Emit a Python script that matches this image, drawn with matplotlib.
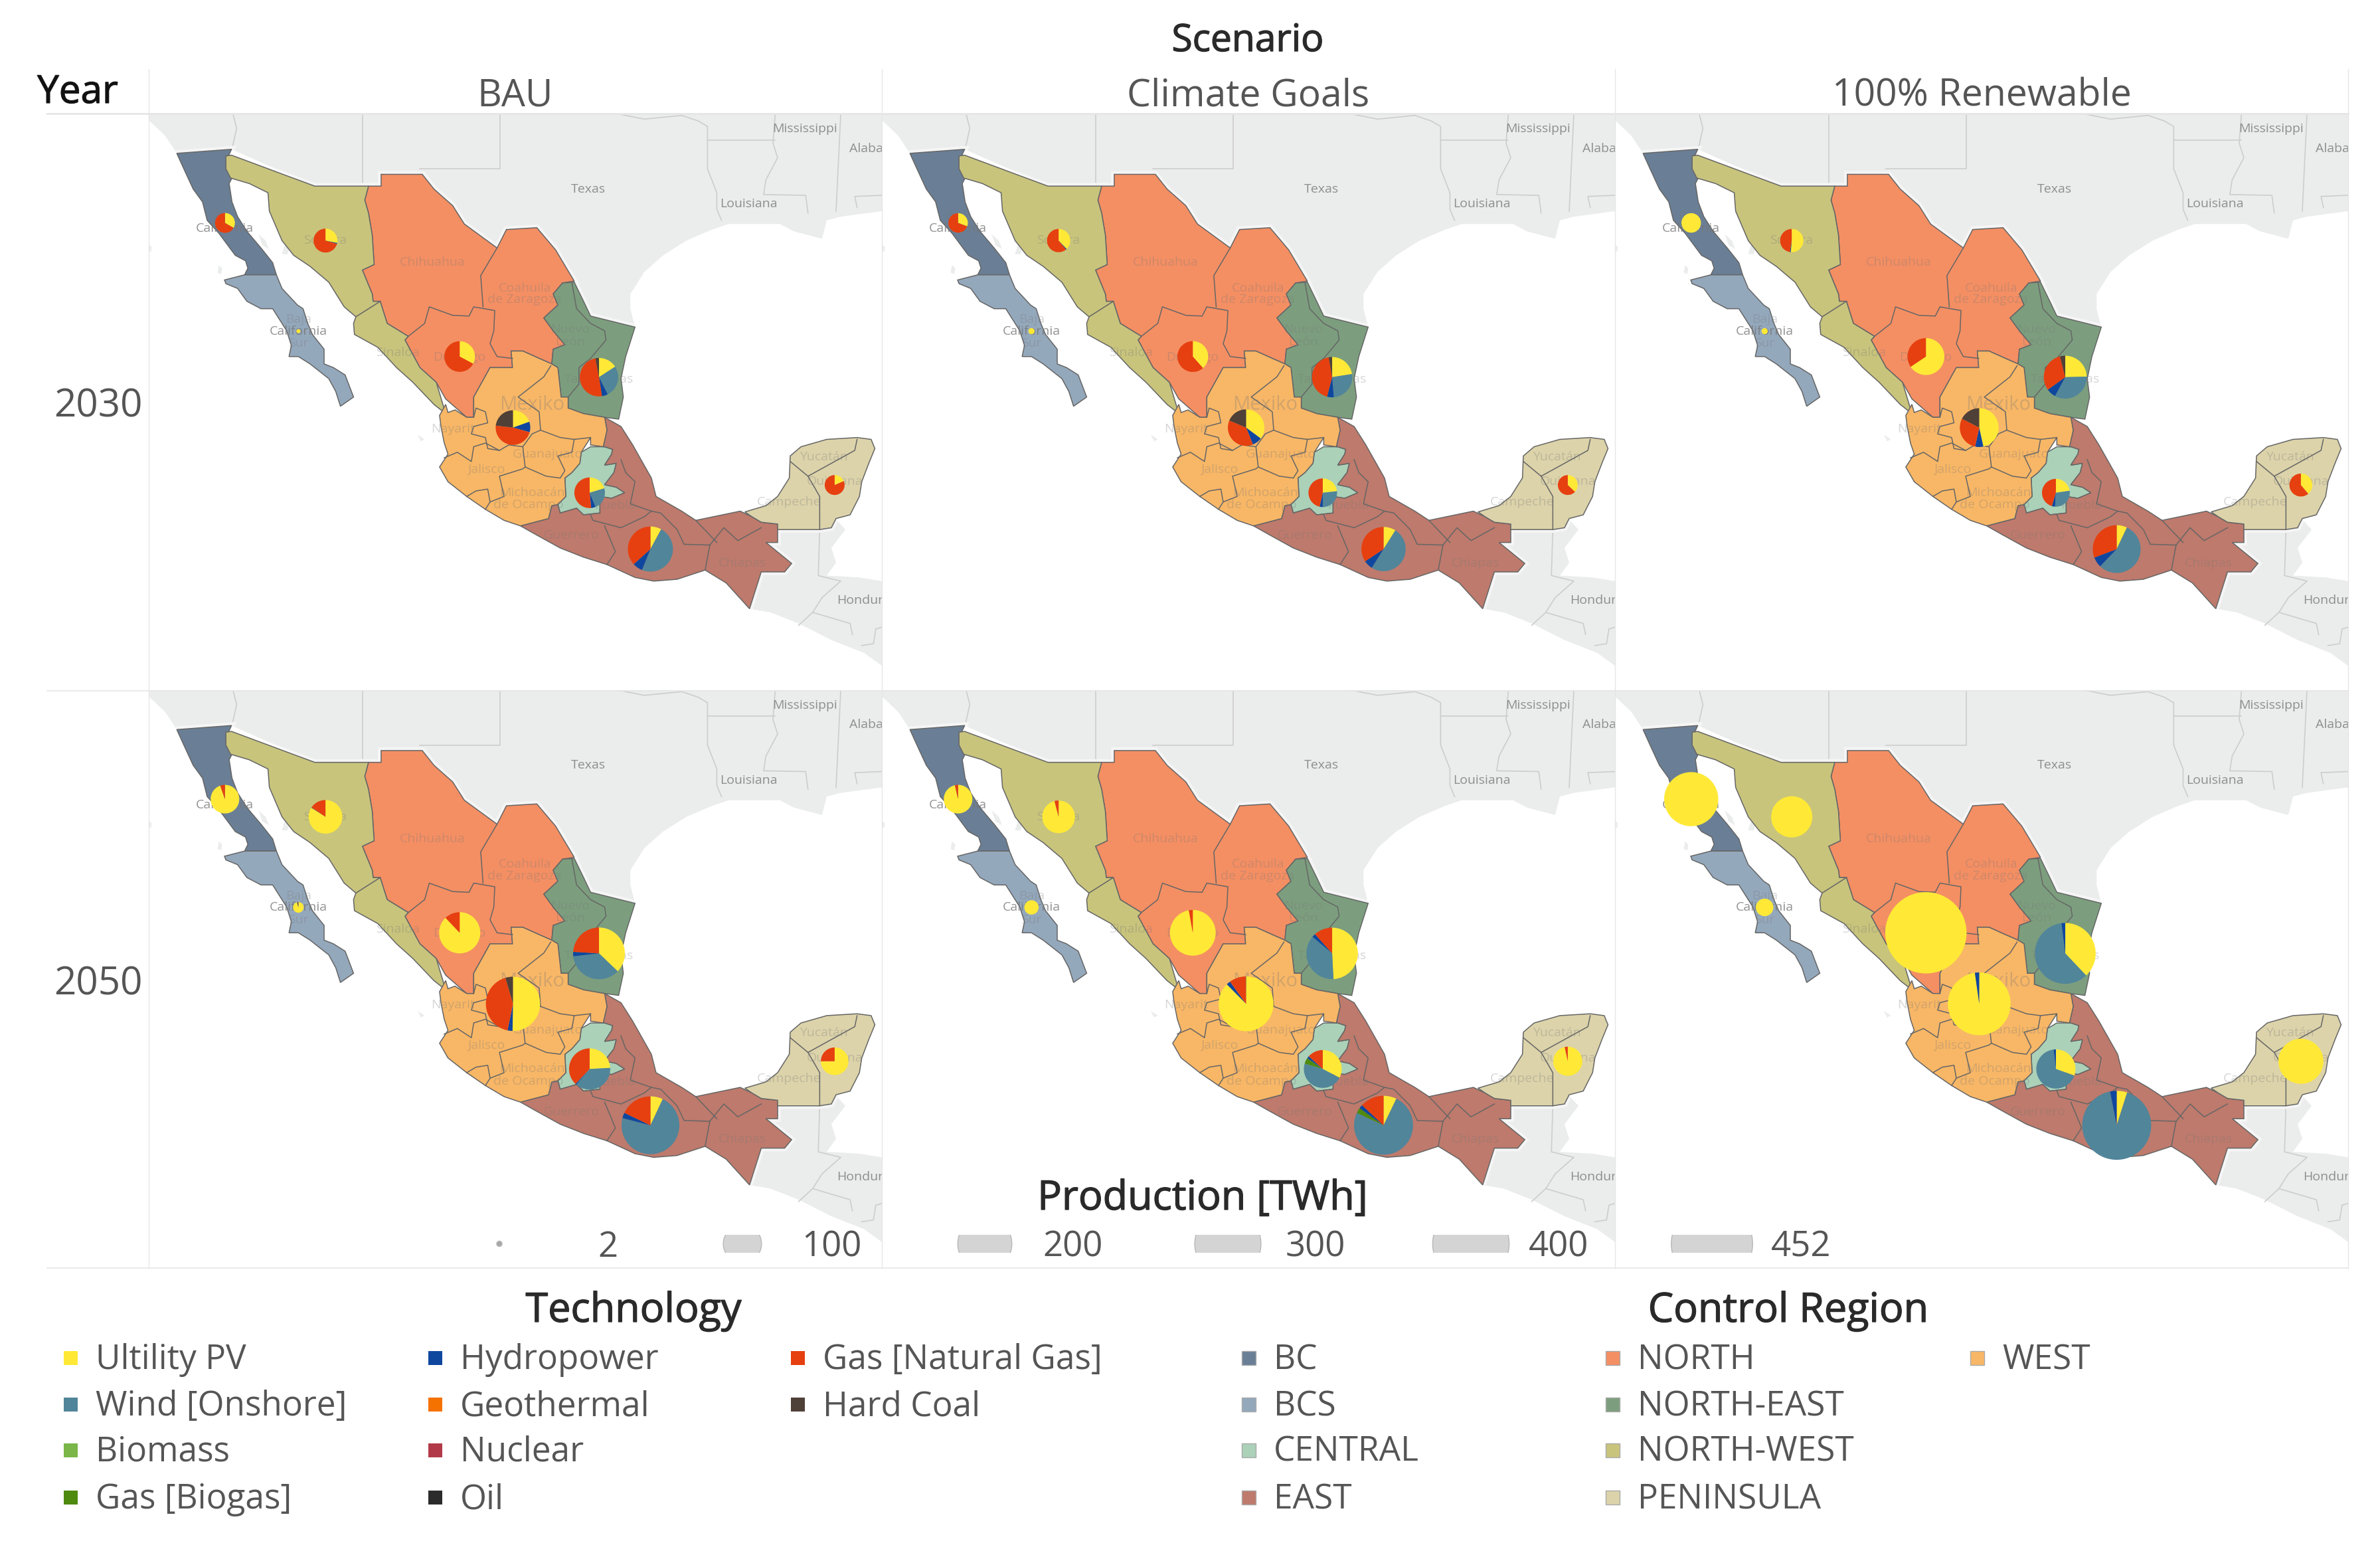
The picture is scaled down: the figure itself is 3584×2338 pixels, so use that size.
import numpy as np
import matplotlib
matplotlib.use('Agg')
import matplotlib.pyplot as plt
from matplotlib.path import Path
from matplotlib.patches import Polygon, Circle, Rectangle
import matplotlib.patheffects as pe

plt.rcParams['font.family'] = ['Open Sans', 'DejaVu Sans']

W, H = 3584, 2338
PANEL_W, PANEL_H = 1104, 869
KX, KY = 1568 / PANEL_W, 1568 / PANEL_H

scenarios = ['BAU', 'Climate Goals', '100% Renewable']
years = ['2030', '2050']

tech_names = ['Ultility PV', 'Wind [Onshore]', 'Biomass', 'Gas [Biogas]', 'Hydropower',
              'Geothermal', 'Nuclear', 'Oil', 'Gas [Natural Gas]', 'Hard Coal']
tech_colors = ['#FFE936', '#51859A', '#7AB648', '#4E8A0F', '#0F479F',
               '#F57200', '#B23A48', '#2B2B2B', '#E64010', '#4F4038']
region_names = ['BC', 'BCS', 'CENTRAL', 'EAST', 'NORTH', 'NORTH-EAST', 'NORTH-WEST', 'PENINSULA', 'WEST']
region_colors = ['#6A7F96', '#94A8BC', '#ABD1B8', '#BE7A6C', '#F48F63', '#7C9E7E', '#C8C47C', '#DCD3AA', '#F8B766']

size_values = [2, 100, 200, 300, 400, 452]

# pie columns: PV, wind, biogas, hydro, natural gas, hard coal (TWh)
pie_techs = [0, 1, 3, 4, 8, 9]
bau_2030 = {'BC': [9, 0, 0, 0, 18, 0], 'NORTH-WEST': [11, 0, 0, 0.5, 27.5, 0], 'BCS': [1.1, 0, 0, 0, 0, 0],
            'NORTH': [21, 0, 0, 0, 43, 0], 'WEST': [16, 0, 0, 8, 39, 19], 'NORTH-EAST': [16, 27, 0, 5, 50, 3],
            'CENTRAL': [13, 15, 0, 3, 33, 0], 'EAST': [11, 67, 0, 10, 51, 0], 'PENINSULA': [5, 0, 0, 0, 22, 0]}
climate_2030 = {'BC': [8, 0, 0, 0, 18, 0], 'NORTH-WEST': [14, 0, 0, 0.5, 22.5, 0], 'BCS': [2.6, 0, 0, 0, 0, 0],
                'NORTH': [25, 0, 0, 0, 40, 0], 'WEST': [32, 0, 0, 8, 34, 17], 'NORTH-EAST': [25, 29, 0, 6, 48, 3],
                'CENTRAL': [13, 15, 0, 2, 26, 0], 'EAST': [12, 67, 0, 9, 46, 0], 'PENINSULA': [10, 0, 0, 0, 17, 0]}
renew_2030 = {'BC': [26, 0, 0, 0, 0, 0], 'NORTH-WEST': [19, 0, 0, 0.5, 17.5, 0], 'BCS': [2.6, 0, 0, 0, 0, 0],
              'NORTH': [61, 0, 0, 0, 32, 0], 'WEST': [48, 0, 0, 7, 30, 18], 'NORTH-EAST': [31, 42, 0, 9, 39, 5],
              'CENTRAL': [12, 15, 0, 2, 24, 0], 'EAST': [11, 86, 0, 11, 48, 0], 'PENINSULA': [14, 0, 0, 0, 22, 0]}
bau_2050 = {'BC': [53, 0, 0, 0, 3, 0], 'NORTH-WEST': [65, 0, 0, 0.3, 12, 0], 'BCS': [7.4, 0, 0, 0, 0, 0.3],
            'NORTH': [102, 0, 0, 0, 14, 0], 'WEST': [101, 0, 0, 6, 85, 9], 'NORTH-EAST': [68, 66, 0, 5, 44, 0],
            'CENTRAL': [28, 43, 0, 1, 44, 0], 'EAST': [16, 165, 0, 7, 41, 0], 'PENINSULA': [39, 0, 0, 0, 13, 0]}
climate_2050 = {'BC': [54, 0, 0, 0, 2, 0], 'NORTH-WEST': [70, 0, 0, 0, 3, 0], 'BCS': [14, 0, 0, 0, 0, 0],
                'NORTH': [139, 0, 0, 0, 4, 0], 'WEST': [180, 0, 0, 5, 20, 0.5], 'NORTH-EAST': [89, 67, 0, 4, 21, 0],
                'CENTRAL': [32, 46, 5, 2, 13, 0], 'EAST': [17, 178, 7, 5, 31, 0], 'PENINSULA': [56, 0, 0, 0, 2, 0]}
renew_2050 = {'BC': [200, 0, 0, 0, 0, 0], 'NORTH-WEST': [116, 0, 0, 0, 0, 0], 'BCS': [21, 0, 0, 0, 0, 0],
              'NORTH': [452, 0, 0, 0, 0, 0], 'WEST': [263, 0, 0, 6, 0, 0], 'NORTH-EAST': [96, 152, 0, 5, 0, 0],
              'CENTRAL': [32, 71, 0, 2, 0, 0], 'EAST': [16, 299, 0, 10, 0, 0], 'PENINSULA': [139, 0, 0, 0, 0, 0]}
panel_data = [[bau_2030, climate_2030, renew_2030], [bau_2050, climate_2050, renew_2050]]

# map units: a 1568 x 1568 grid over one panel
pie_centres = {'BC': (163, 297), 'NORTH-WEST': (378, 345), 'BCS': (320, 591), 'NORTH': (665, 660), 'WEST': (779, 853),
               'NORTH-EAST': (963, 716), 'CENTRAL': (943, 1030), 'EAST': (1073, 1183), 'PENINSULA': (1467, 1009)}

outline_bc = [(60, 108), (177, 97), (165, 130), (180, 170), (172, 190), (178, 240), (190, 280), (210, 320), (240, 365),
              (265, 405), (273, 438), (205, 438), (212, 420), (207, 400), (185, 385), (150, 325), (125, 290), (115, 240),
              (95, 205), (75, 150)]
outline_bcs = [(162, 452), (205, 438), (273, 438), (285, 475), (318, 520), (330, 530), (340, 570), (350, 600), (375, 640),
               (375, 680), (395, 690), (420, 710), (438, 770), (410, 795), (400, 755), (385, 720), (345, 680), (320, 660),
               (300, 660), (305, 630), (295, 590), (265, 530), (240, 530), (210, 510), (190, 475), (165, 462)]
outline_nw = [(165, 115), (177, 113), (355, 197), (470, 197), (462, 235), (470, 270), (478, 330), (482, 410), (457, 425),
              (478, 490), (480, 510), (495, 510), (510, 570), (555, 605), (548, 615), (580, 690), (615, 730), (635, 815),
              (610, 790), (565, 730), (530, 690), (490, 635), (440, 600), (438, 570), (443, 552), (418, 525),
              (385, 458), (345, 415), (310, 385), (285, 345), (258, 265), (255, 215), (215, 190), (175, 175), (165, 150)]
outline_north = [(470, 197), (497, 197), (497, 165), (585, 165), (610, 205), (650, 250), (675, 300), (745, 365), (765, 315),
                 (830, 310), (870, 370), (910, 455), (885, 460), (865, 490), (875, 520), (845, 555), (865, 590), (890, 628),
                 (865, 640), (862, 680), (835, 665), (800, 645), (775, 645), (778, 690), (730, 690), (695, 770), (695, 825),
                 (680, 825), (635, 775), (615, 730), (580, 690), (548, 615), (555, 605), (510, 570), (495, 510), (480, 510),
                 (478, 490), (457, 425), (482, 410), (478, 330), (470, 270), (462, 235)]
outline_ne = [(885, 460), (910, 458), (930, 510), (945, 550), (1040, 580), (1020, 660), (1010, 720), (1015, 770), (1005, 830),
              (975, 825), (930, 815), (897, 800), (897, 770), (882, 770), (875, 690), (862, 680), (865, 640), (890, 628),
              (865, 590), (845, 555), (875, 520), (865, 490)]
outline_west = [(622, 820), (635, 790), (640, 812), (655, 805), (680, 825), (695, 825), (695, 770), (730, 690), (778, 690),
                (775, 645), (800, 645), (835, 665), (862, 680), (875, 690), (882, 770), (897, 770), (897, 800), (930, 815),
                (975, 825), (980, 860), (972, 905), (945, 900), (945, 880), (925, 920), (922, 950), (905, 975), (890, 990),
                (892, 1040), (875, 1062), (862, 1065), (855, 1100), (795, 1120), (760, 1105), (720, 1075), (680, 1040),
                (640, 1000), (622, 960), (640, 925), (632, 895), (625, 850)]
outline_central = [(925, 920), (945, 905), (975, 905), (992, 912), (990, 925), (975, 955), (1000, 950), (995, 975), (975, 1008),
                   (1000, 1015), (1018, 1030), (990, 1045), (965, 1040), (965, 1085), (930, 1090), (915, 1072), (880, 1085),
                   (875, 1062), (892, 1040), (890, 990), (905, 975), (922, 950)]
outline_east = [(975, 825), (1010, 850), (1035, 900), (1075, 990), (1085, 1040), (1140, 1080), (1170, 1105), (1265, 1080),
                (1290, 1095), (1310, 1110), (1345, 1115), (1345, 1165), (1320, 1165), (1375, 1222), (1360, 1245), (1310, 1245),
                (1285, 1345), (1235, 1275), (1190, 1240), (1130, 1265), (1080, 1270), (1040, 1260), (980, 1225), (930, 1205),
                (880, 1180), (830, 1145), (795, 1120), (855, 1100), (862, 1065), (875, 1062), (880, 1085), (915, 1072), (930, 1090),
                (965, 1085), (965, 1040), (990, 1045), (1018, 1030), (1000, 1015), (975, 1008), (995, 975), (1000, 950),
                (975, 955), (990, 925), (992, 912), (975, 905), (972, 905), (980, 860)]
outline_pen = [(1275, 1082), (1320, 1065), (1345, 1040), (1370, 990), (1372, 930), (1395, 905), (1450, 885), (1515, 880),
               (1545, 885), (1553, 910), (1540, 950), (1525, 1000), (1520, 1040), (1500, 1090), (1470, 1100), (1460, 1125),
               (1435, 1130), (1345, 1130), (1345, 1115), (1310, 1110), (1290, 1095)]
region_outlines = {'BC': outline_bc, 'BCS': outline_bcs, 'CENTRAL': outline_central, 'EAST': outline_east, 'NORTH': outline_north,
                   'NORTH-EAST': outline_ne, 'NORTH-WEST': outline_nw, 'PENINSULA': outline_pen, 'WEST': outline_west}

state_lines = [
    [(443, 552), (495, 510)],
    [(745, 365), (710, 440), (715, 525)],
    [(555, 605), (590, 570), (600, 525), (650, 548), (685, 550), (695, 525), (740, 535), (738, 590), (730, 625), (745, 660), (778, 665)],
    [(905, 460), (915, 530), (945, 570), (975, 590), (978, 615), (945, 665), (920, 690), (920, 735), (897, 770)],
    [(1372, 945), (1410, 985), (1435, 1040), (1435, 1130)],
    [(1515, 885), (1510, 915), (1410, 985)],
    [(860, 685), (845, 715), (800, 760), (790, 770), (835, 810), (838, 860), (820, 870), (800, 905), (770, 900), (750, 915),
     (725, 910), (720, 880), (690, 870), (695, 850), (725, 840), (720, 810), (700, 800), (695, 825)],
    [(632, 935), (660, 920), (690, 945), (695, 905), (720, 895), (750, 915)],
    [(800, 905), (805, 960), (800, 965), (750, 985), (760, 1040), (730, 1055), (725, 1020), (700, 1025), (680, 1040)],
    [(730, 1055), (720, 1075)],
    [(838, 860), (880, 880), (910, 885), (945, 880)],
    [(805, 960), (850, 985), (880, 990), (890, 970), (875, 930), (905, 920), (910, 885)],
    [(945, 1090), (950, 1105), (1010, 1125), (1060, 1095), (1075, 1080)],
    [(975, 1120), (998, 1190), (980, 1225)],
    [(1010, 940), (1020, 975), (1040, 1000), (1030, 1060), (1075, 1080), (1095, 1085), (1130, 1130), (1145, 1170), (1200, 1172)],
    [(1200, 1172), (1190, 1240)],
    [(1200, 1172), (1230, 1125), (1260, 1160), (1310, 1125)],
    [(1170, 1105), (1215, 1165)],
]

land_us = [(0, 0), (1568, 0), (1568, 265), (1480, 280), (1450, 290), (1440, 340), (1380, 320), (1350, 300), (1290, 300), (1240, 300),
           (1205, 315), (1150, 345), (1100, 385), (1060, 430), (1030, 490), (1030, 530), (1040, 580), (945, 550), (800, 500),
           (355, 197), (177, 97), (60, 108), (35, 60), (0, 18)]
land_south = [(1290, 1300), (1310, 1245), (1360, 1245), (1375, 1222), (1320, 1165), (1345, 1165), (1345, 1130), (1435, 1130),
              (1460, 1125), (1468, 1100), (1490, 1130), (1460, 1180), (1470, 1220), (1450, 1255), (1520, 1260), (1568, 1270),
              (1568, 1500), (1530, 1465), (1460, 1430), (1390, 1385), (1330, 1355), (1285, 1345)]
islands = [[(0, 355), (6, 362), (5, 376), (0, 372)], [(150, 412), (157, 420), (155, 436), (147, 432)],
           [(235, 328), (250, 345), (257, 368), (243, 358)], [(575, 872), (590, 885), (582, 890)],
           [(292, 350), (302, 355), (297, 382), (285, 382)]]
border_lines = [
    [(458, 0), (458, 197)], [(752, 0), (752, 150), (580, 150)], [(180, 0), (188, 40), (178, 97)],
    [(1000, 0), (1060, 15), (1140, 5), (1175, 20), (1195, 35), (1195, 150), (1215, 215), (1215, 260), (1225, 290)],
    [(1195, 72), (1340, 72)], [(1340, 0), (1335, 80), (1345, 120), (1320, 180), (1315, 220), (1405, 222), (1410, 270)],
    [(1480, 0), (1470, 265)], [(1568, 222), (1510, 225), (1515, 255)],
    [(1435, 1130), (1432, 1255), (1480, 1270), (1440, 1315), (1420, 1355), (1390, 1390)],
    [(1420, 1355), (1500, 1385), (1505, 1415)], [(1568, 1395), (1555, 1400), (1550, 1440), (1525, 1445)],
]

# (text, u, v, on grey land)
map_labels = [('Texas', 940, 205, True), ('Louisiana', 1283, 246, True), ('Mississippi', 1403, 42, True), ('Alaba', 1535, 95, True),
              ('Hondur', 1522, 1323, True), ('Chihuahua', 606, 405, False), ('Coahuila', 804, 474, False),
              ('de Zaragoza', 804, 506, False), ('Nuevo', 902, 587, False), ('León', 902, 620, False), ('Sonora', 378, 345, False),
              ('Baja', 163, 280, False), ('California', 163, 313, True), ('Baja', 320, 560, False), ('California', 320, 591, True),
              ('Sur', 320, 625, False), ('Sinaloa', 533, 650, False), ('Durango', 665, 662, False), ('Tamaulipas', 963, 722, False),
              ('Nayarit', 650, 857, False), ('Jalisco', 722, 966, False), ('Guanajuato', 853, 925, False), ('Michoacán', 820, 1030, False),
              ('de Ocampo', 812, 1063, False), ('Puebla', 997, 1065, False), ('Guerrero', 904, 1146, False), ('Chiapas', 1270, 1221, False),
              ('Yucatán', 1443, 932, False), ('Quintana', 1467, 1000, False), ('Campeche', 1369, 1056, False)]


def to_xy(points):
    pts = np.array(points, dtype=float)
    return np.column_stack([pts[:, 0] / KX, PANEL_H - pts[:, 1] / KY])


def pie_radius(twh):
    return 2.88 * np.sqrt(twh)


fig = plt.figure(figsize=(W / 100, H / 100), dpi=100, facecolor='white')
panel_left = [224, 1328, 2432]
panel_top = [171, 1038.5]

land_path = Path.make_compound_path(*[Path(to_xy(p + p[:1]), closed=True) for p in [land_us, land_south]])

for r in range(2):
    for c in range(3):
        ax = fig.add_axes([panel_left[c] / W, 1 - (panel_top[r] + PANEL_H) / H, PANEL_W / W, PANEL_H / H])
        for land in [land_us, land_south] + islands:
            ax.add_patch(Polygon(to_xy(land), closed=True, fc='#EBECEC', ec='none', zorder=1))
        for line in border_lines:
            xy = to_xy(line)
            ax.plot(xy[:, 0], xy[:, 1], color='#CDCDCD', lw=1.2, zorder=1.5)
        for name in region_names:
            halo = Polygon(to_xy(region_outlines[name]), closed=True, fc='none', ec='#F5F5F5', lw=7, zorder=1.8)
            ax.add_patch(halo)
            halo.set_clip_path(land_path, ax.transData)
        for name, color in zip(region_names, region_colors):
            ax.add_patch(Polygon(to_xy(region_outlines[name]), closed=True, fc=color, ec='#666666', lw=1.1, zorder=2))
        for line in state_lines:
            xy = to_xy(line)
            ax.plot(xy[:, 0], xy[:, 1], color='#666666', lw=1.1, zorder=2.5)
        for txt, u, v, grey in map_labels:
            xy = to_xy([(u, v)])[0]
            ax.text(xy[0], xy[1], txt, ha='center', va='center', fontsize=14, color='#777777',
                    alpha=0.8 if grey else 0.3, zorder=3, clip_on=True)
        xy = to_xy([(820, 792)])[0]
        ax.text(xy[0], xy[1], 'Mexiko', ha='center', va='center', fontsize=21, color='#777777', alpha=0.3, zorder=3, clip_on=True)

        data = panel_data[r][c]
        for name in region_names:
            vals = data[name]
            centre = to_xy([pie_centres[name]])[0]
            ax.pie(vals, center=centre, radius=pie_radius(sum(vals)), startangle=90, counterclock=False,
                   colors=[tech_colors[t] for t in pie_techs], wedgeprops={'lw': 0, 'zorder': 6})
        ax.set_xlim(0, PANEL_W)
        ax.set_ylim(0, PANEL_H)
        ax.set_aspect('auto')
        ax.axis('off')

over = fig.add_axes([0, 0, 1, 1], zorder=10)
over.set_xlim(0, W)
over.set_ylim(H, 0)
over.axis('off')

# grid lines
for x in [224, 1328, 2432, 3536]:
    over.plot([x, x], [104, 1909], color='#E6E6E6', lw=1)
for y, lw in [(171, 2), (1040, 1.2), (1909, 1.2)]:
    over.plot([71, 3536], [y, y], color='#E6E6E6', lw=lw)

HEAD = '#2A2A2A'
TXT = '#555555'
bolder = [pe.withStroke(linewidth=0.9, foreground=HEAD)]
over.text(1879, 77, 'Scenario', ha='center', va='baseline', fontsize=41, color=HEAD, path_effects=bolder)
over.text(117, 155, 'Year', ha='center', va='baseline', fontsize=42, color='#111111', path_effects=bolder)
for x, s in zip([776, 1880, 2984], scenarios):
    over.text(x, 160, s, ha='center', va='baseline', fontsize=41, color=TXT)
for y, s in zip([628, 1497], years):
    over.text(148, y, s, ha='center', va='baseline', fontsize=42, color=TXT)

# size legend
over.text(1811, 1821, 'Production [TWh]', ha='center', va='baseline', fontsize=44, color=HEAD, path_effects=bolder)
size_x = [752, 1118, 1483, 1849, 2215, 2578]
size_label_x = [900, 1207, 1570, 1936, 2302, 2667]
for val, x, lx in zip(size_values, size_x, size_label_x):
    circ = Circle((x, 1872.5), pie_radius(val), fc='#D4D4D4' if val > 2 else '#A8A8A8', ec='#B8B8B8', lw=1)
    over.add_patch(circ)
    circ.set_clip_path(Rectangle((x - 80, 1859), 160, 27, transform=over.transData))
    over.text(lx, 1892, str(val), ha='left', va='baseline', fontsize=38, color=TXT)

# technology and region legends
over.text(954, 1990, 'Technology', ha='center', va='baseline', fontsize=44, color=HEAD, path_effects=bolder)
over.text(2693, 1990, 'Control Region', ha='center', va='baseline', fontsize=44, color=HEAD, path_effects=bolder)
row_y = [2044, 2114, 2183, 2254]
tech_cols = [(96, 144), (645, 693), (1191, 1239)]
reg_cols = [(1870, 1918), (2418, 2466), (2967, 3015)]


def legend_block(names, colors, cols, edge):
    for i, (name, color) in enumerate(zip(names, colors)):
        mx, lx = cols[i // 4]
        y = row_y[i % 4]
        over.add_patch(Rectangle((mx, y - 10.5), 21, 21, fc=color, ec=edge, lw=1))
        over.text(lx, y + 17, name, ha='left', va='baseline', fontsize=37, color=TXT)


legend_block(tech_names, tech_colors, tech_cols, 'none')
legend_block(region_names, region_colors, reg_cols, '#AAAAAA')

fig.savefig('out.png', dpi=100)
